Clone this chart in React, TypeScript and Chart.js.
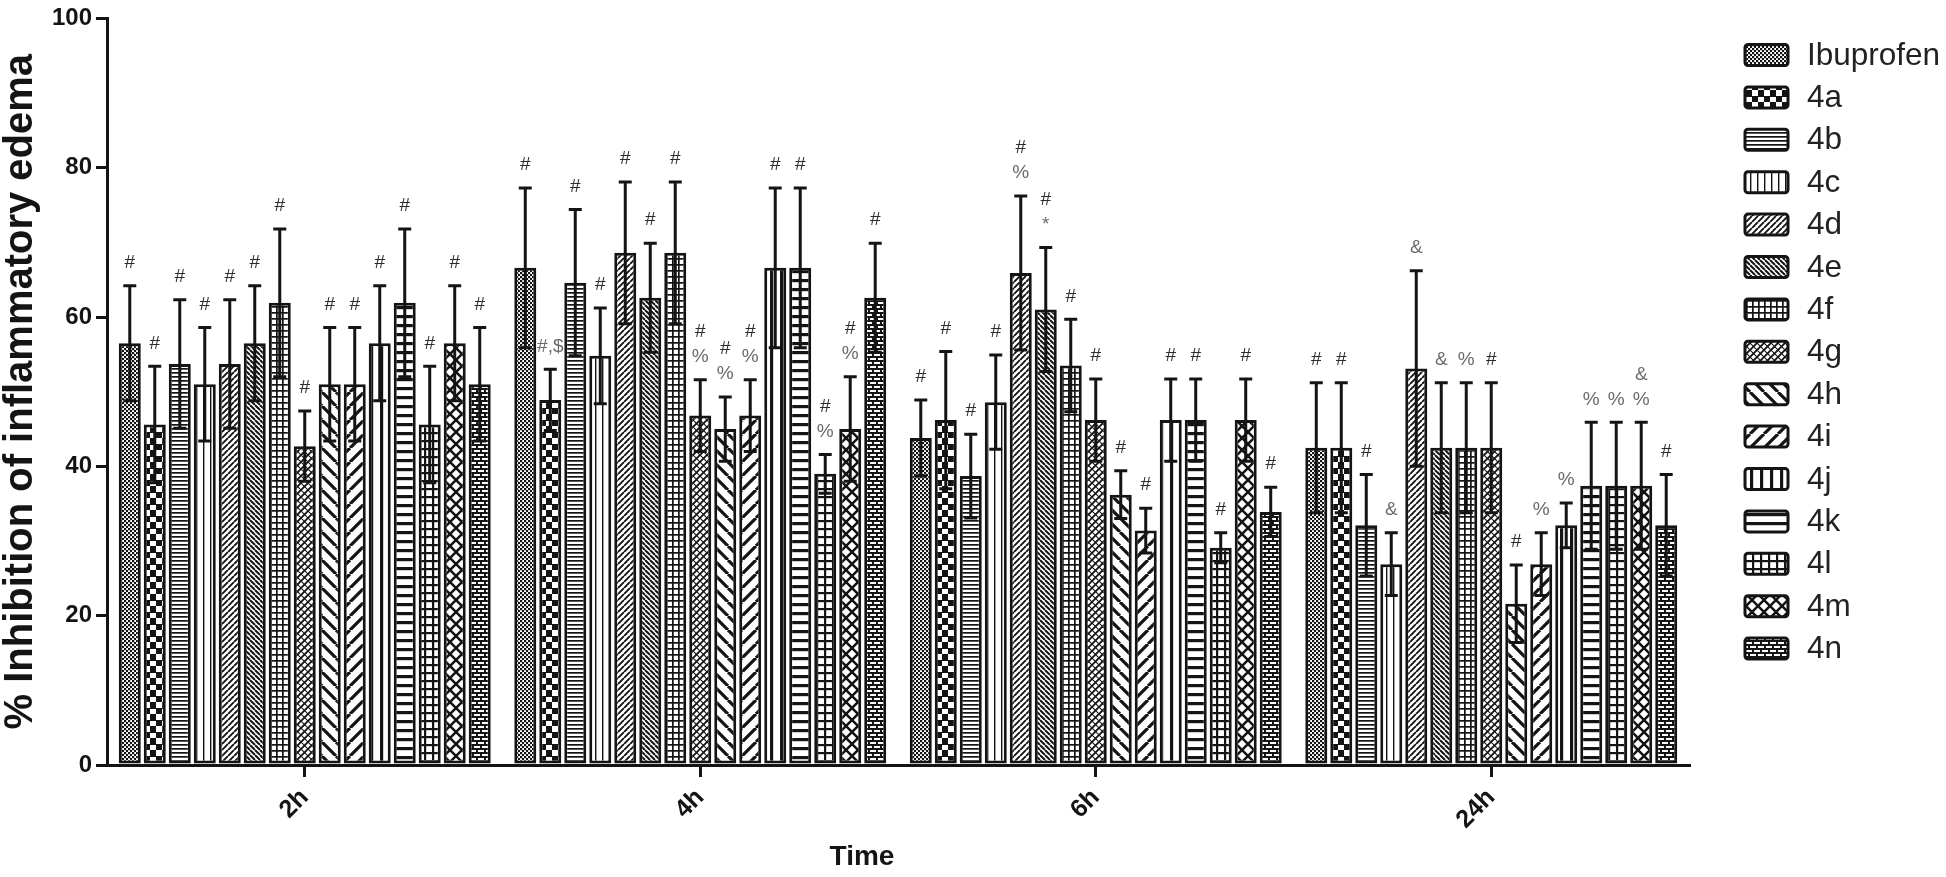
import React, { useEffect, useRef } from 'react';
import { Chart, registerables } from 'chart.js';

Chart.register(...registerables);

// ---------- data ----------
const timeLabels = ['2h', '4h', '6h', '24h'];
const seriesNames = ['Ibuprofen', '4a', '4b', '4c', '4d', '4e', '4f', '4g', '4h', '4i', '4j', '4k', '4l', '4m', '4n'];

// mean % inhibition per compound (order = seriesNames) at each time point
const mean2h = [56.5, 45.6, 53.7, 51.0, 53.7, 56.5, 61.9, 42.7, 51.0, 51.0, 56.5, 61.9, 45.6, 56.5, 51.0];
const mean4h = [66.6, 48.9, 64.6, 54.8, 68.6, 62.6, 68.6, 46.8, 45.0, 46.8, 66.6, 66.6, 39.0, 45.0, 62.6];
const mean6h = [43.8, 46.2, 38.7, 48.6, 65.9, 61.0, 53.5, 46.2, 36.2, 31.4, 46.2, 46.2, 29.1, 46.2, 33.9];
const mean24h = [42.5, 42.5, 32.1, 26.9, 53.1, 42.5, 42.5, 42.5, 21.6, 26.9, 32.1, 37.4, 37.4, 37.4, 32.1];

// SEM per compound at each time point
const sem2h = [7.7, 7.8, 8.6, 7.6, 8.6, 7.7, 9.9, 4.7, 7.6, 7.6, 7.7, 9.9, 7.8, 7.7, 7.6];
const sem4h = [10.7, 4.1, 9.8, 6.4, 9.5, 7.3, 9.5, 4.8, 4.3, 4.8, 10.7, 10.7, 2.6, 7.0, 7.3];
const sem6h = [5.1, 9.2, 5.6, 6.3, 10.3, 8.3, 6.2, 5.5, 3.2, 3.0, 5.5, 5.5, 2.0, 5.5, 3.3];
const sem24h = [8.7, 8.7, 6.8, 4.2, 13.1, 8.7, 8.7, 8.7, 5.2, 4.2, 3.0, 8.5, 8.5, 8.5, 6.8];

// significance marks above each bar
const notes2h = ['#', '#', '#', '#', '#', '#', '#', '#', '#', '#', '#', '#', '#', '#', '#'];
const notes4h = ['#', '#,$', '#', '#', '#', '#', '#', '#\n%', '#\n%', '#\n%', '#', '#', '#\n%', '#\n%', '#'];
const notes6h = ['#', '#', '#', '#', '#\n%', '#\n*', '#', '#', '#', '#', '#', '#', '#', '#', '#'];
const notes24h = ['#', '#', '#', '&', '&', '&', '%', '#', '#', '%', '%', '%', '%', '&\n%', '#'];

const yTickValues = [0, 20, 40, 60, 80, 100];

const FONT = '"Liberation Sans", Arial, Helvetica, sans-serif';
const INK = '#141414';

// ---------- patterns ----------
type Drawer = (c: CanvasRenderingContext2D, w: number, h: number) => void;

function tile(w: number, h: number, draw: Drawer): CanvasPattern | string {
  const cv = document.createElement('canvas');
  cv.width = w;
  cv.height = h;
  const c = cv.getContext('2d');
  if (!c) return '#fff';
  c.fillStyle = '#fff';
  c.fillRect(0, 0, w, h);
  c.fillStyle = INK;
  c.strokeStyle = INK;
  draw(c, w, h);
  const p = c.createPattern(cv, 'repeat');
  return p || '#fff';
}

function fwd(c: CanvasRenderingContext2D, s: number, lw: number) {
  c.lineWidth = lw;
  c.beginPath();
  for (const k of [-s, 0, s]) {
    c.moveTo(k, s);
    c.lineTo(k + s, 0);
  }
  c.stroke();
}
function back(c: CanvasRenderingContext2D, s: number, lw: number) {
  c.lineWidth = lw;
  c.beginPath();
  for (const k of [-s, 0, s]) {
    c.moveTo(k, 0);
    c.lineTo(k + s, s);
  }
  c.stroke();
}

function makePatterns(): (CanvasPattern | string)[] {
  return [
    // Ibuprofen: fine checker dots
    tile(4, 4, (c) => { c.fillRect(0, 0, 2.2, 2.2); c.fillRect(2, 2, 2.2, 2.2); }),
    // 4a: coarse checkerboard
    tile(12, 12, (c) => { c.fillRect(0, 0, 6, 6); c.fillRect(6, 6, 6, 6); c.fillRect(0, 0, 12, 1); }),
    // 4b: dense horizontal lines
    tile(4, 4, (c) => { c.fillRect(0, 0, 4, 1.7); }),
    // 4c: thin vertical lines
    tile(7, 4, (c) => { c.fillRect(0, 0, 1.4, 4); }),
    // 4d: dense forward diagonal
    tile(6, 6, (c) => fwd(c, 6, 1.9)),
    // 4e: dense back diagonal
    tile(5, 5, (c) => back(c, 5, 2.0)),
    // 4f: small grid
    tile(6, 6, (c) => { c.fillRect(0, 0, 6, 1.7); c.fillRect(0, 0, 1.7, 6); }),
    // 4g: diagonal crosshatch
    tile(7, 7, (c) => { fwd(c, 7, 1.9); back(c, 7, 1.1); }),
    // 4h: wide back diagonal
    tile(14, 14, (c) => back(c, 14, 3.2)),
    // 4i: wide forward diagonal
    tile(14, 14, (c) => fwd(c, 14, 3.2)),
    // 4j: thick vertical lines
    tile(10, 4, (c) => { c.fillRect(0, 0, 3.2, 4); }),
    // 4k: thick horizontal lines
    tile(4, 9, (c) => { c.fillRect(0, 0, 4, 3.2); }),
    // 4l: large grid
    tile(8, 8, (c) => { c.fillRect(0, 0, 8, 2.2); c.fillRect(0, 0, 2.2, 8); }),
    // 4m: diamond lattice
    tile(12, 12, (c) => { fwd(c, 12, 2.5); back(c, 12, 2.5); }),
    // 4n: brick
    tile(8, 8, (c) => {
      c.fillRect(0, 0, 8, 2);
      c.fillRect(0, 4, 8, 2);
      c.fillRect(0, 0, 2, 4);
      c.fillRect(4, 4, 2, 4);
    }),
  ];
}

// ---------- plugins ----------
const errorBarPlugin = {
  id: 'errorBarsAndMarks',
  afterDatasetsDraw(chart: any) {
    const ctx: CanvasRenderingContext2D = chart.ctx;
    const yScale = chart.scales.y;
    chart.data.datasets.forEach((ds: any, di: number) => {
      const meta = chart.getDatasetMeta(di);
      meta.data.forEach((bar: any, i: number) => {
        const v = ds.data[i];
        const e = ds.errors[i];
        const x = bar.x;
        const yt = yScale.getPixelForValue(v + e);
        const yb = yScale.getPixelForValue(v - e);
        ctx.save();
        ctx.strokeStyle = INK;
        ctx.lineWidth = 3;
        ctx.beginPath();
        ctx.moveTo(x, yt);
        ctx.lineTo(x, yb);
        ctx.moveTo(x - 6.5, yt);
        ctx.lineTo(x + 6.5, yt);
        ctx.moveTo(x - 6.5, yb);
        ctx.lineTo(x + 6.5, yb);
        ctx.stroke();
        const lines = String(ds.notes[i]).split('\n');
        ctx.font = '19px ' + FONT;
        ctx.textAlign = 'center';
        ctx.textBaseline = 'middle';
        lines.forEach((t: string, k: number) => {
          const yy = yt - 23 - (lines.length - 1 - k) * 25;
          ctx.fillStyle = t === '#' ? '#2c2c2c' : '#6a6a6a';
          ctx.fillText(t, x, yy);
        });
        ctx.restore();
      });
    });
  },
};

const sideLegendPlugin = {
  id: 'sideLegend',
  afterDraw(chart: any) {
    const ctx: CanvasRenderingContext2D = chart.ctx;
    const bx = chart.chartArea.right + 56;
    chart.data.datasets.forEach((ds: any, i: number) => {
      const cy = 55 + i * 42.4;
      const bw = 43;
      const bh = 21;
      ctx.save();
      ctx.beginPath();
      (ctx as any).roundRect(bx, cy - bh / 2, bw, bh, 3);
      ctx.fillStyle = ds.backgroundColor;
      ctx.fill();
      ctx.lineWidth = 3;
      ctx.strokeStyle = INK;
      ctx.stroke();
      ctx.fillStyle = '#222';
      ctx.font = '31.5px ' + FONT;
      ctx.textAlign = 'left';
      ctx.textBaseline = 'middle';
      ctx.fillText(ds.label, bx + 62, cy + 1);
      ctx.restore();
    });
  },
};

const xTitlePlugin = {
  id: 'xTitle',
  afterDraw(chart: any) {
    const ctx: CanvasRenderingContext2D = chart.ctx;
    const { left, right } = chart.chartArea;
    ctx.save();
    ctx.fillStyle = INK;
    ctx.font = 'bold 28px ' + FONT;
    ctx.textAlign = 'center';
    ctx.textBaseline = 'middle';
    ctx.fillText('Time', (left + right) / 2 - 36, 857);
    ctx.restore();
  },
};

export default function App() {
  const canvasRef = useRef<HTMLCanvasElement | null>(null);

  useEffect(() => {
    const canvas = canvasRef.current;
    if (!canvas) return;
    const patterns = makePatterns();
    const means = [mean2h, mean4h, mean6h, mean24h];
    const sems = [sem2h, sem4h, sem6h, sem24h];
    const notes = [notes2h, notes4h, notes6h, notes24h];

    const datasets = seriesNames.map((name, s) => ({
      label: name,
      data: means.map((m) => m[s]),
      errors: sems.map((m) => m[s]),
      notes: notes.map((m) => m[s]),
      backgroundColor: patterns[s],
      borderColor: INK,
      borderWidth: 3,
      borderSkipped: false,
      categoryPercentage: 0.948,
      barPercentage: 0.88,
    }));

    const chart = new Chart(canvas, {
      type: 'bar',
      data: { labels: timeLabels, datasets: datasets as any },
      options: {
        responsive: false,
        animation: false,
        devicePixelRatio: 1,
        layout: { padding: { left: 0, right: 257, top: 15, bottom: 0 } },
        plugins: {
          legend: { display: false },
          tooltip: { enabled: false },
        },
        scales: {
          x: {
            afterFit: (s: any) => { s.height = 112; },
            grid: {
              offset: false,
              drawOnChartArea: false,
              drawTicks: true,
              tickLength: 12,
              lineWidth: 3,
              color: INK,
            },
            border: { display: true, width: 3, color: INK },
            ticks: {
              color: INK,
              font: { family: FONT, size: 25, weight: 'bold' },
              minRotation: 45,
              maxRotation: 45,
              padding: 6,
            },
          },
          y: {
            min: 0,
            max: 100,
            afterFit: (s: any) => { s.width = 107; },
            afterBuildTicks: (s: any) => { s.ticks = yTickValues.map((v) => ({ value: v })); },
            grid: {
              drawOnChartArea: false,
              drawTicks: true,
              tickLength: 11,
              lineWidth: 3,
              color: INK,
            },
            border: { display: true, width: 3, color: INK },
            ticks: {
              color: INK,
              font: { family: FONT, size: 24, weight: 'bold' },
              padding: 4,
            },
            title: {
              display: true,
              text: '% Inhibition of inflammatory edema',
              color: INK,
              font: { family: FONT, size: 40, weight: 'bold', lineHeight: 1 },
              padding: { top: 1, bottom: 0 },
            },
          },
        },
      },
      plugins: [errorBarPlugin, sideLegendPlugin, xTitlePlugin],
    } as any);

    return () => chart.destroy();
  }, []);

  return (
    <div style={{ position: 'absolute', left: 0, top: 0, width: 1946, height: 877, background: '#fff' }}>
      <canvas ref={canvasRef} width={1946} height={877} style={{ display: 'block', width: 1946, height: 877 }} />
    </div>
  );
}
